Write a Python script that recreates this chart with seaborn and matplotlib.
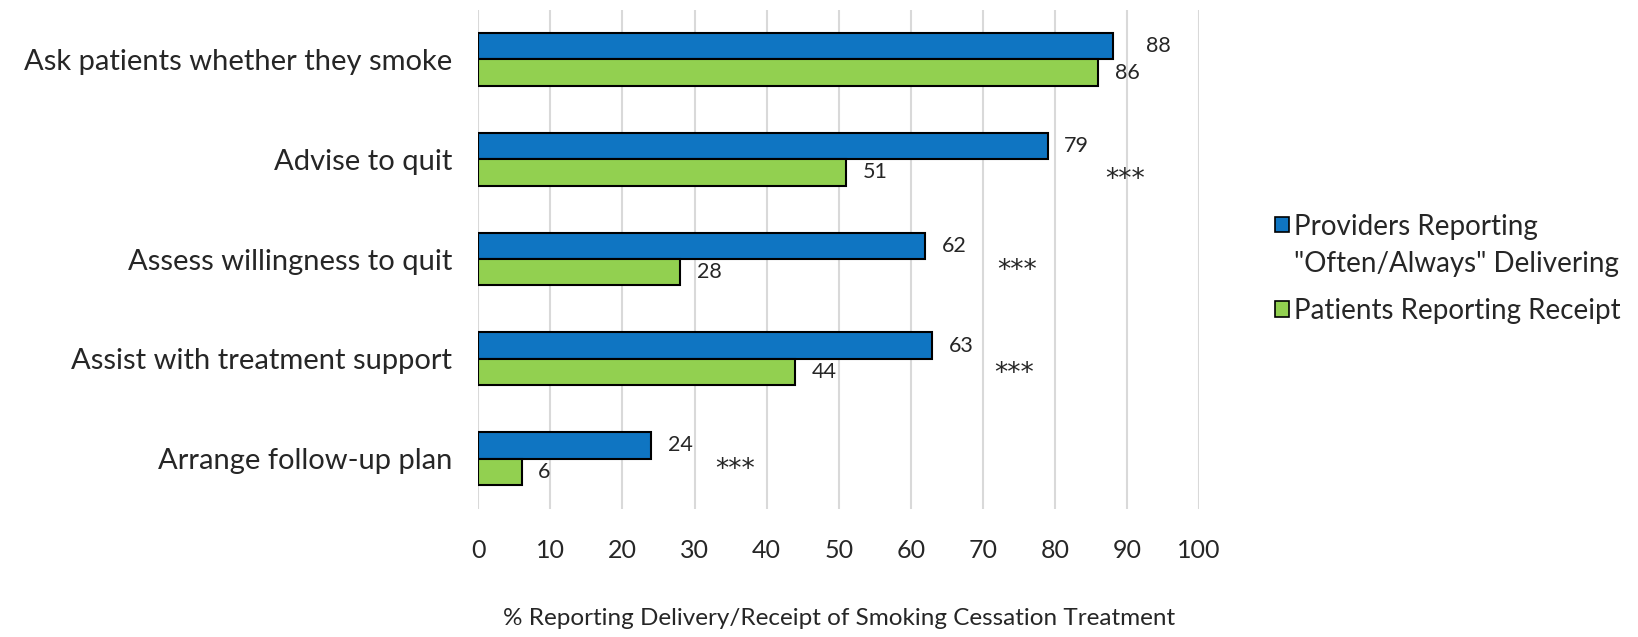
import matplotlib
matplotlib.use("Agg")
import matplotlib.pyplot as plt
import seaborn as sns
import pandas as pd
from matplotlib.patches import Patch, Rectangle
from matplotlib.legend_handler import HandlerPatch

categories = [
    "Ask patients whether they smoke",
    "Advise to quit",
    "Assess willingness to quit",
    "Assist with treatment support",
    "Arrange follow-up plan",
]
providers = [88, 79, 62, 63, 24]
patients = [86, 51, 28, 44, 6]
series_names = ['Providers Reporting\n"Often/Always" Delivering', "Patients Reporting Receipt"]
significance = ["", "***", "***", "***", "***"]
star_x = [None, 89.7, 74.7, 74.4, 35.6]
star_dy = [None, 0.205, 0.12, 0.15, 0.115]
x_ticks = [0, 10, 20, 30, 40, 50, 60, 70, 80, 90, 100]
x_label = "% Reporting Delivery/Receipt of Smoking Cessation Treatment"

colors = ["#0F75C2", "#92D050"]

df = pd.DataFrame({
    "category": categories * 2,
    "value": providers + patients,
    "series": [series_names[0]] * len(categories) + [series_names[1]] * len(categories),
})

sns.set_theme(style="white")
plt.rcParams["font.family"] = ["Lato", "DejaVu Sans"]

fig = plt.figure(figsize=(16.38, 6.37), dpi=100)
ax = fig.add_axes([0.292, 0.2017, 0.440, 0.7833])

sns.barplot(
    data=df, y="category", x="value", hue="series", orient="h",
    palette=colors, saturation=1, edgecolor="black", linewidth=1.5,
    width=0.53, gap=0, ax=ax, legend=False, zorder=3,
)

ax.set_xlim(0, 100)
ax.set_ylim(len(categories) - 0.5, -0.5)
ax.set_xticks(x_ticks)
ax.grid(axis="x", color="#D9D9D9", linewidth=1.5, zorder=0)
ax.grid(axis="y", visible=False)
for s in ax.spines.values():
    s.set_visible(False)
ax.tick_params(axis="x", length=0, pad=22, labelsize=18)
ax.tick_params(axis="y", length=0, pad=19, labelsize=21)
ax.set_ylabel("")
ax.set_xlabel(x_label, fontsize=17.5, labelpad=33)

# value labels beside each bar
for ci, container in enumerate(ax.containers):
    vals = providers if ci == 0 else patients
    for i, bar in enumerate(container):
        w = bar.get_width()
        yc = bar.get_y() + bar.get_height() / 2
        dx = 12
        if ci == 0 and i == 0:
            dx = 24
        ax.annotate(f"{vals[i]:g}", xy=(w, yc), xytext=(dx, 0),
                    textcoords="offset points", va="center", ha="left",
                    fontsize=15.5)

# significance markers
for i, (mark, sx, dy) in enumerate(zip(significance, star_x, star_dy)):
    if mark:
        ax.text(sx, i + dy, mark, ha="center", va="center", fontsize=19,
                family=["DejaVu Sans"])


def top_line_square(legend, orig_handle, xdescent, ydescent, width, height, fontsize):
    # put the swatch beside the first line of a two-line label
    return Rectangle((-xdescent, -ydescent + 0.775 * fontsize), width, height)


handles = [Patch(facecolor=c, edgecolor="black", linewidth=1.2) for c in colors]
leg = fig.legend(handles, series_names, loc="center left",
                 bbox_to_anchor=(0.763, 0.578), frameon=False, fontsize=20,
                 handlelength=0.5, handleheight=0.5, handletextpad=0.18,
                 labelspacing=0.75,
                 handler_map={handles[0]: HandlerPatch(patch_func=top_line_square)})
for t in leg.get_texts():
    t.set_linespacing(1.55)

fig.savefig("out.png", dpi=100)
